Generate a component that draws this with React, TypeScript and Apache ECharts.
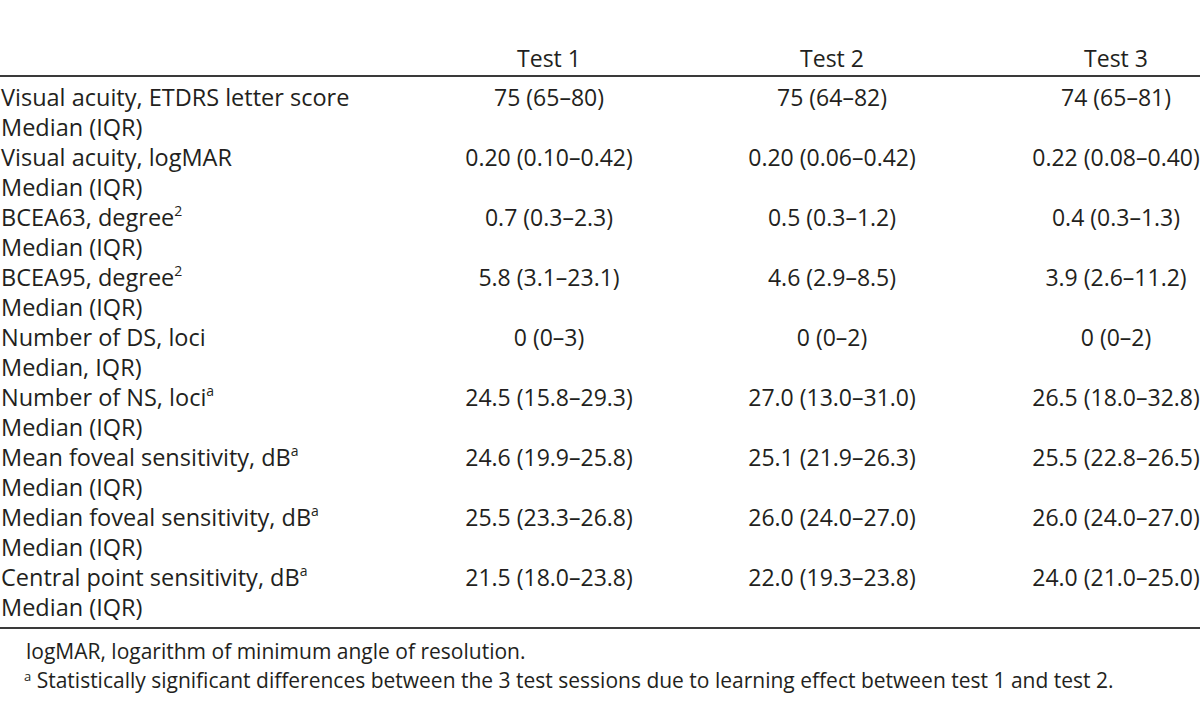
import React, { useEffect, useRef } from "react";
import * as echarts from "echarts";

const columnHeaders = ["Test 1", "Test 2", "Test 3"];
const rowLabels = [
  "Visual acuity, ETDRS letter score",
  "Visual acuity, logMAR",
  "BCEA63, degree",
  "BCEA95, degree",
  "Number of DS, loci",
  "Number of NS, loci",
  "Mean foveal sensitivity, dB",
  "Median foveal sensitivity, dB",
  "Central point sensitivity, dB",
];
const rowLabelSup = ["", "", "2", "2", "", "a", "a", "a", "a"];
const rowSubLabels = [
  "Median (IQR)",
  "Median (IQR)",
  "Median (IQR)",
  "Median (IQR)",
  "Median, IQR)",
  "Median (IQR)",
  "Median (IQR)",
  "Median (IQR)",
  "Median (IQR)",
];
const test1Values = ["75 (65–80)", "0.20 (0.10–0.42)", "0.7 (0.3–2.3)", "5.8 (3.1–23.1)", "0 (0–3)", "24.5 (15.8–29.3)", "24.6 (19.9–25.8)", "25.5 (23.3–26.8)", "21.5 (18.0–23.8)"];
const test2Values = ["75 (64–82)", "0.20 (0.06–0.42)", "0.5 (0.3–1.2)", "4.6 (2.9–8.5)", "0 (0–2)", "27.0 (13.0–31.0)", "25.1 (21.9–26.3)", "26.0 (24.0–27.0)", "22.0 (19.3–23.8)"];
const test3Values = ["74 (65–81)", "0.22 (0.08–0.40)", "0.4 (0.3–1.3)", "3.9 (2.6–11.2)", "0 (0–2)", "26.5 (18.0–32.8)", "25.5 (22.8–26.5)", "26.0 (24.0–27.0)", "24.0 (21.0–25.0)"];
const footnoteNote = "logMAR, logarithm of minimum angle of resolution.";
const footnoteMarker = "a";
const footnoteText = "Statistically significant differences between the 3 test sessions due to learning effect between test 1 and test 2.";

const W = 1200;
const H = 703;
const FONT = "'Open Sans', 'Noto Sans', sans-serif";
const INK = "#231f20";
const LABEL_SIZE = 23.5;
const VALUE_SIZE = 23;
const FOOT_SIZE = 21;
const headerY = 58;
const topRuleY = 76;
const firstRowY = 97;
const lineStep = 30;
const bottomRuleY = 628;
const foot1Y = 651;
const foot2Y = 680;
const colX = [549, 832, 1116];
const labelX = 1;
const footX = 26;

function richStyles(size: number, lh: number) {
  return {
    n: { fontSize: size, fontFamily: FONT, fill: INK, lineHeight: lh, verticalAlign: "middle" },
    sup: { fontSize: Math.round(size * 0.6), fontFamily: FONT, fill: INK, lineHeight: Math.round(lh * 0.45), verticalAlign: "top" },
  };
}

function textEl(x: number, y: number, text: string, size: number, align: string) {
  return {
    type: "text",
    x,
    y,
    silent: true,
    style: { text, fontSize: size, fontFamily: FONT, fill: INK, align, verticalAlign: "middle" },
  };
}

function richEl(x: number, y: number, text: string, size: number, lh: number) {
  return {
    type: "text",
    x,
    y,
    silent: true,
    style: { text, rich: richStyles(size, lh), align: "left", verticalAlign: "middle" },
  };
}

export default function App() {
  const ref = useRef<HTMLDivElement>(null);
  useEffect(() => {
    document.body.style.margin = "0";
    if (!ref.current) return;
    const chart = echarts.init(ref.current, null, { renderer: "svg" });
    const elements: any[] = [];
    columnHeaders.forEach((h, i) => elements.push(textEl(colX[i], headerY, h, VALUE_SIZE, "center")));
    elements.push({ type: "line", silent: true, shape: { x1: 0, y1: topRuleY, x2: W, y2: topRuleY }, style: { stroke: "#3a3a3a", lineWidth: 2 } });
    const cols = [test1Values, test2Values, test3Values];
    rowLabels.forEach((lab, r) => {
      const y1 = firstRowY + lineStep * 2 * r;
      const y2 = y1 + lineStep;
      const t = rowLabelSup[r] ? `{n|${lab}}{sup|${rowLabelSup[r]}}` : `{n|${lab}}`;
      elements.push(richEl(labelX, y1, t, LABEL_SIZE, 28));
      elements.push(textEl(labelX, y2, rowSubLabels[r], LABEL_SIZE, "left"));
      cols.forEach((vals, c) => elements.push(textEl(colX[c], y1, vals[r], VALUE_SIZE, "center")));
    });
    elements.push({ type: "line", silent: true, shape: { x1: 0, y1: bottomRuleY, x2: W, y2: bottomRuleY }, style: { stroke: "#3a3a3a", lineWidth: 2 } });
    elements.push(richEl(footX, foot1Y, `{n|${footnoteNote}}`, FOOT_SIZE, 22));
    elements.push(richEl(footX - 2, foot2Y, `{sup|${footnoteMarker}}{n| ${footnoteText}}`, FOOT_SIZE, 22));
    chart.setOption({ animation: false, graphic: { elements } });
    return () => chart.dispose();
  }, []);
  return <div ref={ref} style={{ width: W, height: H, background: "#fff" }} />;
}
